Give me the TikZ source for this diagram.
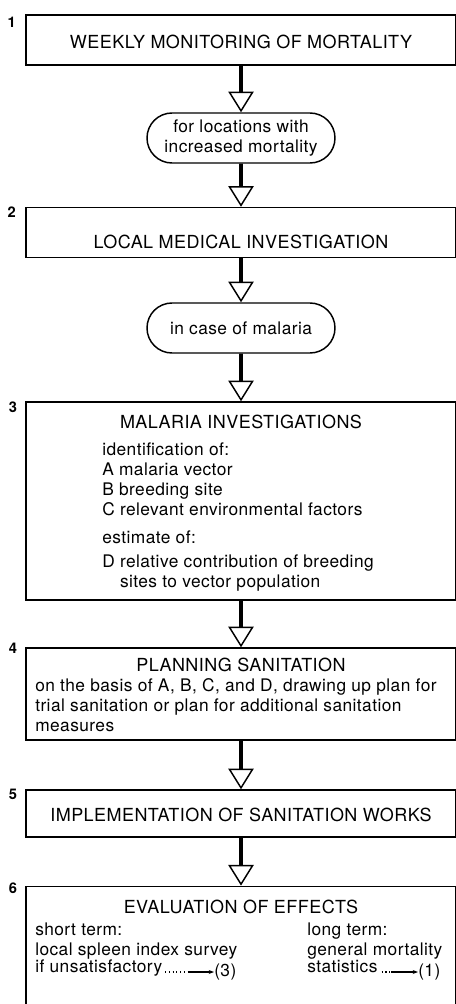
\documentclass[tikz,border=0pt]{standalone}
\usepackage{fontspec}
\setmainfont{TeX Gyre Heros}[LetterSpace=2.5]
\usetikzlibrary{positioning,shapes.misc,arrows.meta}

\tikzset{
	box/.style={draw, line width=1.1pt, minimum width=322.5pt, inner sep=0pt},
	oval/.style={draw, rounded rectangle, line width=1.1pt, minimum width=145pt, minimum height=37.5pt, align=center, inner sep=2pt, font=\fontsize{13}{15}\selectfont},
	flow/.style={line width=2.8pt, -{Triangle[open, length=15.5pt, width=19pt, line width=1.1pt]}},
	title/.style={font=\fontsize{13.5}{15}\selectfont, inner sep=0pt},
	body/.style={font=\fontsize{13}{15}\selectfont, align=left, anchor=north west, inner sep=0pt},
	num/.style={font=\fontsize{11}{11}\selectfont\bfseries, anchor=north east, inner sep=0pt},
	link/.style={line width=0.8pt},
}

\begin{document}
\begin{tikzpicture}[x=0.75pt, y=-0.75pt, every node/.style={black}]
	\clip (0,0) rectangle (456,1004);
%	boxes and ovals, centres in pixels of the chart
	\node[box, minimum height=37.5pt] (box1) at (241,40) {};
	\node[oval] (oval1) at (241,138) {for locations with\\increased mortality};
	\node[box, minimum height=37.5pt] (box2) at (241,232.5) {};
	\node[oval] (oval2) at (241,328) {in case of malaria};
	\node[box, minimum height=148.5pt] (box3) at (241,501) {};
	\node[box, minimum height=69pt] (box4) at (241,694) {};
	\node[box, minimum height=35.25pt] (box5) at (241,813.5) {};
	\node[box, minimum height=160pt] (box6) at (241,993) {};

%	step numbers
	\node[num] (n1) at ([xshift=-7pt,yshift=-2pt]box1.north west) {1};
	\node[num] (n2) at ([xshift=-7pt]box2.north west) {2};
	\node[num] (n3) at ([xshift=-6pt]box3.north west) {3};
	\node[num] (n4) at ([xshift=-6pt,yshift=3pt]box4.north west) {4};
	\node[num] (n5) at ([xshift=-6pt]box5.north west) {5};
	\node[num] (n6) at ([xshift=-6pt,yshift=2pt]box6.north west) {6};

%	titles
	\node[title] (t1) at (241,42) {WEEKLY MONITORING OF MORTALITY};
	\node[title] (t2) at (241,242) {LOCAL MEDICAL INVESTIGATION};
	\node[title] (t3) at (241,422) {MALARIA INVESTIGATIONS};
	\node[title] (t4) at (241,665) {PLANNING SANITATION};
	\node[title] (t5) at (241,815) {IMPLEMENTATION OF SANITATION WORKS};
	\node[title] (t6) at (241,907) {EVALUATION OF EFFECTS};

%	texts in the boxes
	\node[body] (b3) at (102,443) {identification of:\\A malaria vector\\B breeding site\\C relevant environmental factors\\[6pt]estimate of:\\[3pt]D relative contribution of breeding\\\phantom{D }sites to vector population};
	\node[body] (b4) at (35,678) {on the basis of A, B, C, and D, drawing up plan for\\trial sanitation or plan for additional sanitation\\measures};
	\node[body] (s1) at (35,923) {short term:\\local spleen index survey};
	\node[body, below right=0pt and 0pt of s1.south west] (s2) {if unsatisfactory};
	\node[body] (l1) at (307,923) {long term:\\general mortality};
	\node[body, below right=0pt and 0pt of l1.south west] (l2) {statistics};
	\coordinate (d3) at (188,972);
	\coordinate (d1) at (391,972);
	\node[body, anchor=west] (r3) at (214,972) {(3)};
	\node[body, anchor=west] (r1) at (418,972) {(1)};

%	flow
	\draw[flow] (box1) -- (oval1);
	\draw[flow] (oval1) -- (box2);
	\draw[flow] (box2) -- (oval2);
	\draw[flow] (oval2) -- (box3);
	\draw[flow] (box3) -- (box4);
	\draw[flow] (box4) -- (box5);
	\draw[flow] (box5) -- (box6);

%	back references
	\draw[link, dotted] ([xshift=2pt]s2.east |- d3) -- (d3);
	\draw[link, -{Stealth[length=4pt]}] (d3) -- (r3.west);
	\draw[link, dotted] ([xshift=3pt]l2.east |- d1) -- (d1);
	\draw[link, -{Stealth[length=4pt]}] (d1) -- (r1.west);
\end{tikzpicture}
\end{document}
